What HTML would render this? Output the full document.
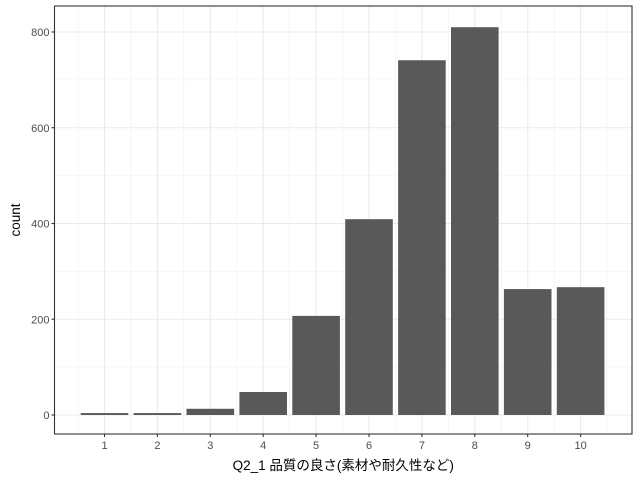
<!DOCTYPE html>
<html><head><meta charset="utf-8"><style>
body{margin:0;background:#fff}
text{font-family:"Liberation Sans","Noto Sans CJK JP",sans-serif}
</style></head><body>
<svg id="c" width="640" height="480"></svg>
<script>
const categories=["1","2","3","4","5","6","7","8","9","10"];
const counts=[4,4,13,48,207,409,741,810,263,267];
const yTicks=[0,200,400,600,800];
const yMinor=[100,300,500,700];
const ns="http://www.w3.org/2000/svg";
const svg=document.getElementById('c');
const L=54.5,R=632,T=6,B=434;
const x=i=>104.5+i*52.9;
const y=v=>415-v*0.47875;
function el(t,a,p){const e=document.createElementNS(ns,t);for(const k in a)e.setAttribute(k,a[k]);(p||svg).appendChild(e);return e;}
el('rect',{x:L,y:T,width:R-L,height:B-T,fill:'#fff'});
yMinor.forEach(v=>{const g=el('line',{x1:L,x2:R,y1:y(v),y2:y(v),stroke:'#f0f0f0','stroke-width':0.6});

});
categories.forEach((c,i)=>{const g=el('line',{x1:x(i)-26.45,x2:x(i)-26.45,y1:T,y2:B,stroke:'#f0f0f0','stroke-width':0.6});

});
el('line',{x1:x(9)+26.45,x2:x(9)+26.45,y1:T,y2:B,stroke:'#f0f0f0','stroke-width':0.6});
yTicks.forEach(v=>{const g=el('line',{x1:L,x2:R,y1:y(v),y2:y(v),stroke:'#ebebeb','stroke-width':1.1});


const t=el('line',{x1:L-3,x2:L,y1:y(v),y2:y(v),stroke:'#333','stroke-width':1.1});


const l=el('text',{x:L-5,y:y(v)+4,'text-anchor':'end','font-size':11,fill:'#4d4d4d'});l.textContent=v;

});
categories.forEach((c,i)=>{const g=el('line',{x1:x(i),x2:x(i),y1:T,y2:B,stroke:'#ebebeb','stroke-width':1.1});

});
counts.forEach((v,i)=>{const b=el('rect',{x:x(i)-23.8,y:y(v),width:47.6,height:y(0)-y(v),fill:'#595959'});


const t=el('line',{x1:x(i),x2:x(i),y1:B,y2:B+3,stroke:'#333','stroke-width':1.1});


const l=el('text',{x:x(i),y:B+15,'text-anchor':'middle','font-size':11,fill:'#4d4d4d'});l.textContent=categories[i];

});
const f=el('rect',{x:L,y:T,width:R-L,height:B-T,fill:'none',stroke:'#333','stroke-width':1.1});


const xt=el('text',{x:(L+R)/2,y:470,'text-anchor':'middle','font-size':13.5,fill:'#000'});xt.textContent='Q2_1 品質の良さ(素材や耐久性など)';


const yt=el('text',{x:0,y:0,'text-anchor':'middle','font-size':13.5,fill:'#000',transform:`translate(20,${(T+B)/2}) rotate(-90)`});yt.textContent='count';


</script>
</body></html>
